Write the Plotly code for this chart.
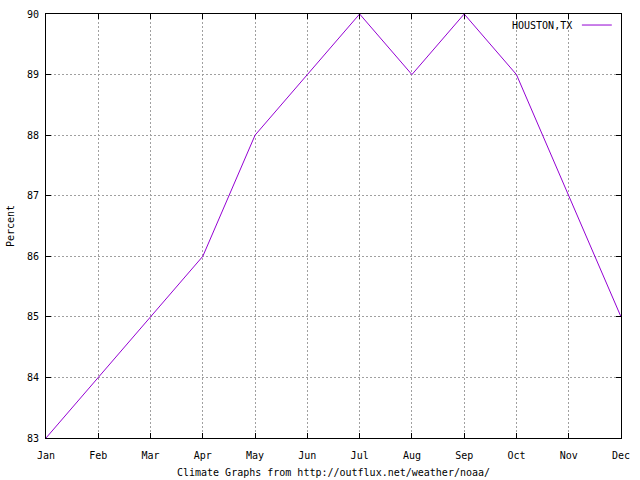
import plotly.graph_objects as go

months = ["Jan", "Feb", "Mar", "Apr", "May", "Jun", "Jul", "Aug", "Sep", "Oct", "Nov", "Dec"]
houston = [83, 84, 85, 86, 88, 89, 90, 89, 90, 89, 87, 85]
y_ticks = [83, 84, 85, 86, 87, 88, 89, 90]
series_name = "HOUSTON,TX"

FONT = "DejaVu Sans Mono"
FS = 10
COLOR = "#9400d3"

fig = go.Figure()
fig.add_trace(go.Scatter(
    x=list(range(len(months))), y=houston, mode="lines", name=series_name,
    line=dict(color=COLOR, width=1), showlegend=False,
))

axis_common = dict(
    showline=True, linecolor="black", linewidth=1, mirror="ticks",
    ticks="inside", ticklen=5, tickcolor="black", tickwidth=1,
    showgrid=True, gridcolor="#a0a0a0", griddash="2px,2px", gridwidth=1,
    zeroline=False, tickfont=dict(family=FONT, size=FS, color="black"),
    automargin=False,
)

fig.update_layout(
    width=640, height=480,
    margin=dict(l=46, r=19, t=14, b=42),
    plot_bgcolor="white", paper_bgcolor="white",
    font=dict(family=FONT, size=FS, color="black"),
    xaxis=dict(
        range=[0, len(months) - 1], tickmode="array",
        tickvals=list(range(len(months))), ticktext=months,
        ticklabelstandoff=8,
        title=dict(text="Climate Graphs from http://outflux.net/weather/noaa/",
                   font=dict(family=FONT, size=FS), standoff=8),
        **axis_common,
    ),
    yaxis=dict(
        range=[83, 90], tickmode="array", tickvals=y_ticks,
        ticktext=[str(v) for v in y_ticks],
        ticklabelstandoff=4,
        title=dict(text="Percent", font=dict(family=FONT, size=FS), standoff=10),
        **axis_common,
    ),
)

fig.add_annotation(
    xref="paper", yref="paper", x=0.918, y=0.974, xanchor="right", yanchor="middle",
    text=series_name, showarrow=False, font=dict(family=FONT, size=FS, color="black"),
)
fig.add_shape(
    type="line", xref="paper", yref="paper", x0=0.932, x1=0.984, y0=0.974, y1=0.974,
    line=dict(color=COLOR, width=1),
)

fig.write_html("out.html", config={"displayModeBar": False},
               post_script="document.body.style.margin='0';")
